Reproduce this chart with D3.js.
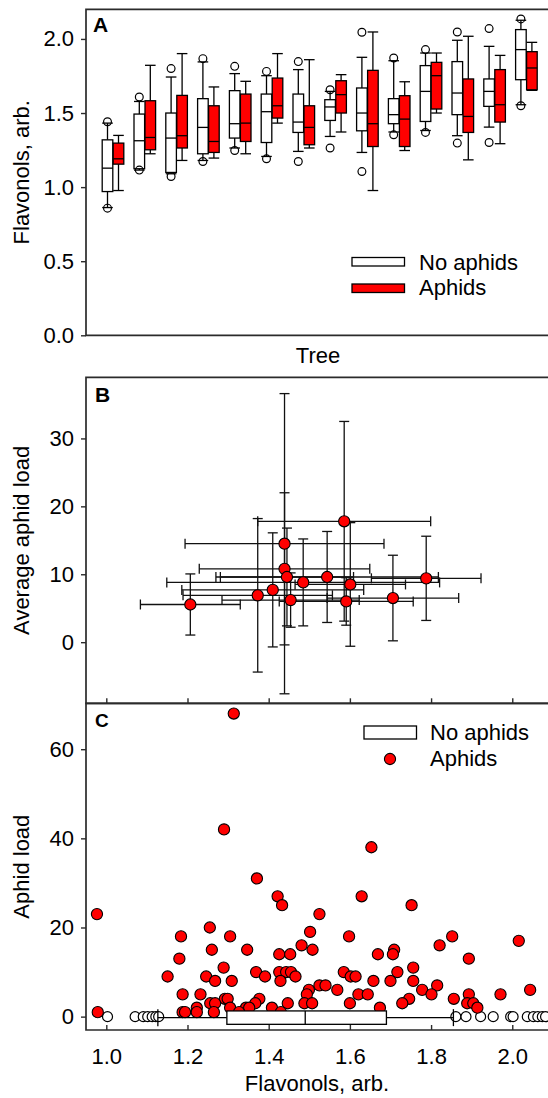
<!DOCTYPE html>
<html><head><meta charset="utf-8">
<script src="https://cdn.jsdelivr.net/npm/d3@7"></script>
<style>
html,body{margin:0;padding:0;background:#fff;}
svg{display:block;}
text{font-family:"Liberation Sans",Arial,sans-serif;fill:#000;}
</style>
</head><body><div id="chart"></div>
<script>
// ---------- Panel A: flavonols per tree (box plots) ----------
const trees = [1,2,3,4,5,6,7,8,9,10,11,12,13,14];
// No aphids
const noLo   = [0.862,1.115,1.090,1.180,1.264,1.207,1.241,1.342,1.234,1.372,1.382,1.347,1.405,1.556];
const noQ1   = [0.970,1.124,1.099,1.225,1.331,1.301,1.369,1.450,1.380,1.428,1.443,1.489,1.545,1.725];
const noMed  = [1.128,1.313,1.331,1.403,1.428,1.509,1.439,1.541,1.500,1.489,1.646,1.635,1.646,1.928];
const noQ3   = [1.319,1.493,1.500,1.597,1.651,1.628,1.628,1.590,1.669,1.597,1.820,1.847,1.730,2.063];
const noHi   = [1.432,1.578,1.743,1.845,1.766,1.752,1.793,1.646,1.876,1.853,1.905,1.991,1.950,2.126];
const noOutLo= [0.858,1.115,1.072,1.173,1.247,1.191,1.173,1.264,1.105,1.353,1.369,1.297,1.301,1.549];
const noOutHi= [1.441,1.608,1.800,1.867,1.815,1.781,1.847,1.657,2.045,1.871,1.928,2.047,2.070,2.135];
// Aphids
const apLo   = [0.977,1.225,1.180,1.196,1.225,1.432,1.264,1.372,0.977,1.247,1.500,1.184,1.293,1.653];
const apQ1   = [1.155,1.252,1.264,1.234,1.308,1.466,1.286,1.500,1.274,1.274,1.527,1.369,1.439,1.657];
const apMed  = [1.191,1.335,1.347,1.308,1.432,1.549,1.403,1.624,1.428,1.459,1.752,1.477,1.556,1.804];
const apQ3   = [1.297,1.583,1.619,1.549,1.628,1.736,1.549,1.718,1.788,1.617,1.842,1.730,1.793,1.914];
const apHi   = [1.349,1.822,1.901,1.676,1.714,1.901,1.860,1.759,2.047,1.711,1.905,2.018,1.889,1.977];
const aTicks = [0.0,0.5,1.0,1.5,2.0];

// ---------- Panel B: average aphid load vs flavonols (mean ± SD) ----------
const bFlav    = [1.207,1.586,1.439,1.373,1.410,1.439,1.445,1.454,1.485,1.544,1.601,1.591,1.706,1.788];
const bFlavErr = [0.123,0.213,0.245,0.184,0.224,0.210,0.164,0.169,0.336,0.274,0.136,0.165,0.162,0.135];
const bLoad    = [5.55,17.8,14.5,6.9,7.7,10.8,9.6,6.2,8.8,9.6,8.5,6.0,6.5,9.4];
const bLoadErr = [4.5,14.7,22.1,11.3,8.4,11.2,7.2,4.0,6.4,6.7,9.1,3.5,6.3,6.2];
const bYTicks = [0,10,20,30];
const xTicks = [1.0,1.2,1.4,1.6,1.8,2.0];

// ---------- Panel C: aphid load vs flavonols (individual leaves) ----------
const cAphFlav = [0.977,0.979,1.371,1.422,1.433,1.525,1.255,1.184,1.305,1.260,1.347,1.180,1.502,1.481,1.508,1.426,1.453,
  1.289,1.151,1.246,1.268,1.309,1.369,1.391,1.426,1.443,1.455,1.466,1.429,1.525,1.499,1.494,1.188,1.232,1.292,1.299,
  1.377,1.367,1.256,1.268,1.447,1.488,1.507,1.223,1.305,1.344,1.352,1.408,1.188,1.194,1.223,1.265,1.430,1.653,1.629,
  1.752,1.598,1.852,1.821,2.016,1.709,1.706,1.669,1.893,1.756,1.585,1.602,1.614,1.717,1.658,1.700,1.756,1.540,1.569,
  1.778,1.815,1.621,1.644,1.801,1.893,1.971,2.044,1.746,1.856,1.600,1.729,1.889,1.904,1.914,1.674,1.314,1.290,1.327];
const cAphLoad = [23,1,31,27,25,23,20,18,18,15,15,13,19,16,15,14,14,
  11,9,9,8,8,10,9,10,10,10,9,8,7,6,5,5,5,4,4,
  4,3,3,3,3,3,3,2,2,2,2,2,1,1,1,1,1,38,27,
  25,18,18,16,17,15,14,14,13,11,10,9,9,10,8,8,8,7,6,
  6,7,5,5,5,5,5,6,4,4,3,3,3,3,2,2,68,42,1];
const cNoFlav = [1.003,1.071,1.091,1.102,1.113,1.122,1.129,1.861,1.886,1.922,1.953,1.996,2.002,2.037,2.052,2.063,2.074,2.082];
const cNoBoxLo = 1.127, cNoBoxQ1 = 1.297, cNoBoxMed = 1.490, cNoBoxQ3 = 1.690, cNoBoxHi = 1.855;
const cYTicks = [0,20,40,60];

// ---------- drawing ----------
const W = 548, H = 1098;
const RED = "#ff0000", FRAME = "#2b2b2b";
const FS = 22;
const svg = d3.select("#chart").append("svg").attr("width", W).attr("height", H)
  .attr("viewBox", `0 0 ${W} ${H}`);
svg.append("rect").attr("width", W).attr("height", H).attr("fill", "#fff");

function frame(g, l, t, b, r) {
  g.append("path").attr("d", `M${r},${t}H${l}V${b}H${r}`)
    .attr("fill", "none").attr("stroke", FRAME).attr("stroke-width", 1.7);
}
function styleAxis(sel, fs) {
  sel.select(".domain").remove();
  sel.selectAll(".tick line").attr("stroke", FRAME).attr("stroke-width", 1.4);
  sel.selectAll(".tick text").attr("font-size", fs).attr("fill", "#000")
    .style("font-family", '"Liberation Sans",Arial,sans-serif');
}
function ytitle(txt, cy, fs) {
  svg.append("text").attr("transform", `translate(29,${cy}) rotate(-90)`)
    .attr("text-anchor", "middle").attr("font-size", fs).text(txt);
}

// ===== Panel A =====
const A = {l: 86, t: 9.3, b: 335.3, r: 560};
const xA = d3.scalePoint().domain(trees).range([113, 526.4]);
const yA = d3.scaleLinear().domain([0, 2.2]).range([A.b, A.t]);
const gA = svg.append("g");
const bw = 10.6;

function vbox(g, xl, lo, q1, med, q3, hi, fill) {
  const cx = xl + bw / 2;
  const ln = (x1, y1, x2, y2) => g.append("line").attr("x1", x1).attr("y1", y1).attr("x2", x2).attr("y2", y2)
    .attr("stroke", "#000").attr("stroke-width", 1.3);
  ln(cx, yA(hi), cx, yA(q3));
  ln(cx, yA(q1), cx, yA(lo));
  ln(xl, yA(hi), xl + bw, yA(hi));
  ln(xl, yA(lo), xl + bw, yA(lo));
  g.append("rect").attr("x", xl).attr("y", yA(q3)).attr("width", bw).attr("height", yA(q1) - yA(q3))
    .attr("fill", fill).attr("stroke", "#000").attr("stroke-width", 1.3);
  ln(xl, yA(med), xl + bw, yA(med));
}
trees.forEach((t, i) => {
  const c = xA(t);
  const xl = c - bw - 0.2, xr = c + 0.2;
  vbox(gA, xl, noLo[i], noQ1[i], noMed[i], noQ3[i], noHi[i], "#fff");
  vbox(gA, xr, apLo[i], apQ1[i], apMed[i], apQ3[i], apHi[i], RED);
  [noOutLo[i], noOutHi[i]].forEach(v => {
    gA.append("circle").attr("cx", xl + bw / 2).attr("cy", yA(v)).attr("r", 3.9)
      .attr("fill", "none").attr("stroke", "#000").attr("stroke-width", 1.2);
  });
});
frame(gA, A.l, A.t, A.b, A.r);
const axA = gA.append("g").attr("transform", `translate(${A.l},0)`)
  .call(d3.axisLeft(yA).tickValues(aTicks).tickSize(5).tickPadding(7).tickFormat(d3.format(".1f")));
styleAxis(axA, FS);
gA.append("text").attr("x", 93).attr("y", 31.5).attr("font-size", 21).attr("font-weight", "bold").text("A");
gA.append("text").attr("x", 318).attr("y", 363.3).attr("text-anchor", "middle").attr("font-size", FS).text("Tree");
ytitle("Flavonols, arb.", (A.t + A.b) / 2, FS);
// legend A
gA.append("rect").attr("x", 352).attr("y", 257.5).attr("width", 52.5).attr("height", 8.5)
  .attr("fill", "#fff").attr("stroke", "#000").attr("stroke-width", 1.3);
gA.append("rect").attr("x", 352).attr("y", 284).attr("width", 52.5).attr("height", 8.5)
  .attr("fill", RED).attr("stroke", "#000").attr("stroke-width", 1.3);
gA.append("text").attr("x", 419).attr("y", 269.5).attr("font-size", FS).text("No aphids");
gA.append("text").attr("x", 419).attr("y", 295).attr("font-size", FS).text("Aphids");

// ===== Panel B =====
const B = {l: 86, t: 377.3, b: 703.3, r: 560};
const xB = d3.scaleLinear().domain([0.95, 2.088]).range([86, 548]);
const yB = d3.scaleLinear().domain([-9, 39]).range([B.b, B.t]);
const gB = svg.append("g");
const cap = 5;
bFlav.forEach((fx, i) => {
  const px = xB(fx), py = yB(bLoad[i]);
  const x0 = xB(fx - bFlavErr[i]), x1 = xB(fx + bFlavErr[i]);
  const y0 = yB(bLoad[i] - bLoadErr[i]), y1 = yB(bLoad[i] + bLoadErr[i]);
  const g = gB.append("g").attr("stroke", "#111").attr("stroke-width", 1.3);
  g.append("line").attr("x1", x0).attr("x2", x1).attr("y1", py).attr("y2", py);
  g.append("line").attr("x1", x0).attr("x2", x0).attr("y1", py - cap).attr("y2", py + cap);
  g.append("line").attr("x1", x1).attr("x2", x1).attr("y1", py - cap).attr("y2", py + cap);
  g.append("line").attr("x1", px).attr("x2", px).attr("y1", y0).attr("y2", y1);
  g.append("line").attr("x1", px - cap).attr("x2", px + cap).attr("y1", y0).attr("y2", y0);
  g.append("line").attr("x1", px - cap).attr("x2", px + cap).attr("y1", y1).attr("y2", y1);
});
bFlav.forEach((fx, i) => {
  gB.append("circle").attr("cx", xB(fx)).attr("cy", yB(bLoad[i])).attr("r", 5.6)
    .attr("fill", RED).attr("stroke", "#000").attr("stroke-width", 1.1);
});
frame(gB, B.l, B.t, B.b, B.r);
const axBy = gB.append("g").attr("transform", `translate(${B.l},0)`)
  .call(d3.axisLeft(yB).tickValues(bYTicks).tickSize(5).tickPadding(7));
styleAxis(axBy, FS);
const axBx = gB.append("g").attr("transform", `translate(0,${B.b})`)
  .call(d3.axisBottom(xB).tickValues(xTicks).tickSize(-5).tickFormat(""));
styleAxis(axBx, FS);
gB.append("text").attr("x", 95).attr("y", 401.5).attr("font-size", 21).attr("font-weight", "bold").text("B");
ytitle("Average aphid load", (B.t + B.b) / 2, FS);

// ===== Panel C =====
const C = {l: 86, t: 703.3, b: 1030, r: 560};
const xC = d3.scaleLinear().domain([0.95, 2.088]).range([86, 548]);
const yC = d3.scaleLinear().domain([-3, 70.3]).range([C.b, C.t]);
const gC = svg.append("g");
cNoFlav.forEach(v => {
  gC.append("circle").attr("cx", xC(v)).attr("cy", yC(0)).attr("r", 5)
    .attr("fill", "#fff").attr("stroke", "#000").attr("stroke-width", 1.2);
});
cAphFlav.forEach((v, i) => {
  gC.append("circle").attr("cx", xC(v)).attr("cy", yC(cAphLoad[i])).attr("r", 5.6)
    .attr("fill", RED).attr("stroke", "#000").attr("stroke-width", 1.1);
});
{
  const yc = yC(0) + 1, hh = 6.7, ch = 8.5;
  const g = gC.append("g").attr("stroke", "#000").attr("stroke-width", 1.3);
  g.append("line").attr("x1", xC(cNoBoxLo)).attr("x2", xC(cNoBoxQ1)).attr("y1", yc).attr("y2", yc);
  g.append("line").attr("x1", xC(cNoBoxQ3)).attr("x2", xC(cNoBoxHi)).attr("y1", yc).attr("y2", yc);
  g.append("line").attr("x1", xC(cNoBoxLo)).attr("x2", xC(cNoBoxLo)).attr("y1", yc - ch).attr("y2", yc + ch);
  g.append("line").attr("x1", xC(cNoBoxHi)).attr("x2", xC(cNoBoxHi)).attr("y1", yc - ch).attr("y2", yc + ch);
  g.append("rect").attr("x", xC(cNoBoxQ1)).attr("y", yc - hh).attr("width", xC(cNoBoxQ3) - xC(cNoBoxQ1))
    .attr("height", 2 * hh).attr("fill", "#fff");
  g.append("line").attr("x1", xC(cNoBoxMed)).attr("x2", xC(cNoBoxMed)).attr("y1", yc - hh).attr("y2", yc + hh);
}
frame(gC, C.l, C.t, C.b, C.r);
const axCy = gC.append("g").attr("transform", `translate(${C.l},0)`)
  .call(d3.axisLeft(yC).tickValues(cYTicks).tickSize(5).tickPadding(7));
styleAxis(axCy, FS);
const axCx = gC.append("g").attr("transform", `translate(0,${C.b})`)
  .call(d3.axisBottom(xC).tickValues(xTicks).tickSize(-5).tickPadding(18).tickFormat(d3.format(".1f")));
styleAxis(axCx, FS);
gC.append("text").attr("x", 95).attr("y", 727).attr("font-size", 19).attr("font-weight", "bold").text("C");
gC.append("text").attr("x", 317).attr("y", 1091).attr("text-anchor", "middle").attr("font-size", FS).text("Flavonols, arb.");
ytitle("Aphid load", (C.t + C.b) / 2, FS);
// legend C
gC.append("rect").attr("x", 364).attr("y", 726).attr("width", 52.5).attr("height", 13)
  .attr("fill", "#fff").attr("stroke", "#000").attr("stroke-width", 1.3);
gC.append("circle").attr("cx", 390).attr("cy", 759).attr("r", 5.6)
  .attr("fill", RED).attr("stroke", "#000").attr("stroke-width", 1.1);
gC.append("text").attr("x", 430).attr("y", 740).attr("font-size", FS).text("No aphids");
gC.append("text").attr("x", 430).attr("y", 766).attr("font-size", FS).text("Aphids");
</script>
</body></html>
